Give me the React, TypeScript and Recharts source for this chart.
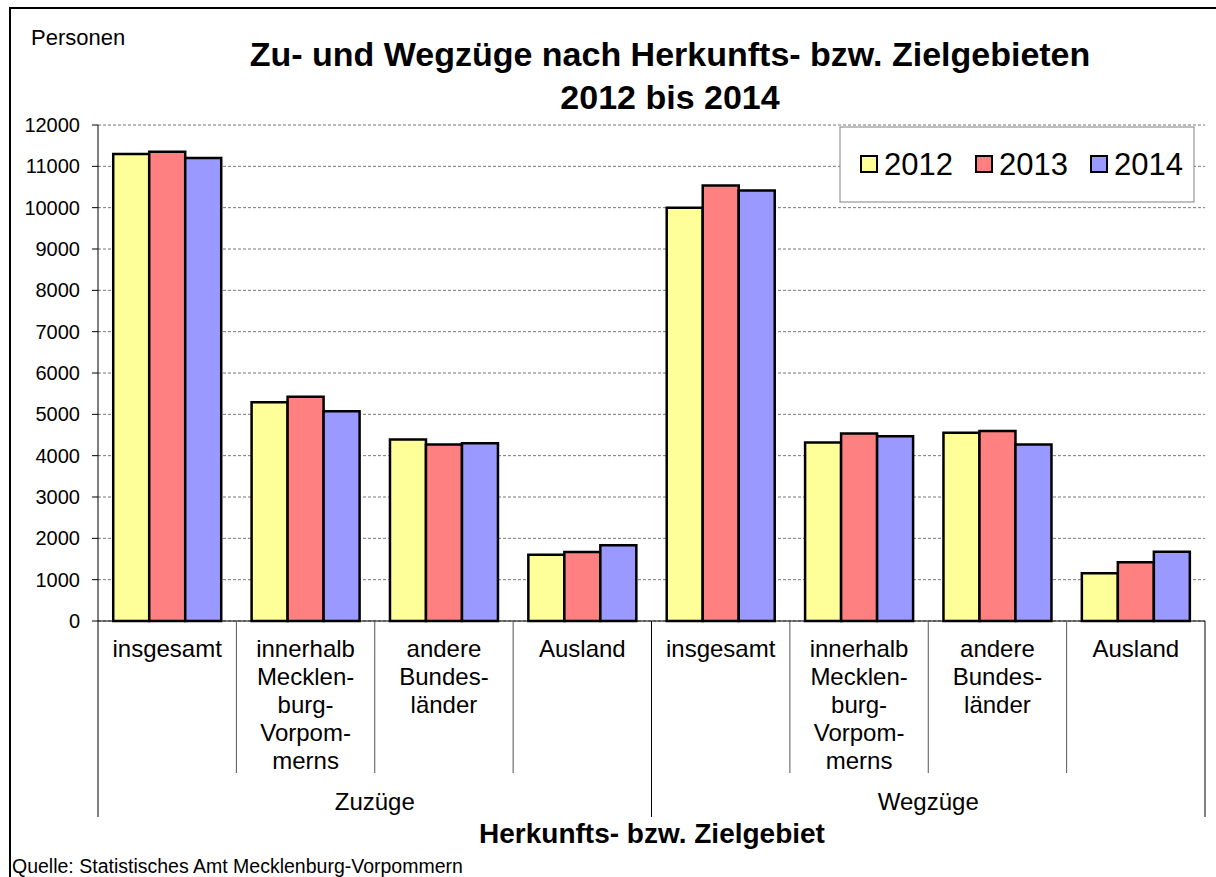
import { BarChart, Bar, XAxis, YAxis, CartesianGrid } from "recharts";

const FONT = "'Liberation Sans', Arial, sans-serif";

// Kategorien der x-Achse (zeilenweise wie im Original umbrochen)
const GROUPS = ["Zuzüge", "Wegzüge"];
const CATEGORY_LINES: string[][] = [
  ["insgesamt"],
  ["innerhalb", "Mecklen-", "burg-", "Vorpom-", "merns"],
  ["andere", "Bundes-", "länder"],
  ["Ausland"],
  ["insgesamt"],
  ["innerhalb", "Mecklen-", "burg-", "Vorpom-", "merns"],
  ["andere", "Bundes-", "länder"],
  ["Ausland"],
];

// Personen je Jahr
const V2012 = [11300, 5295, 4390, 1605, 10000, 4320, 4555, 1155];
const V2013 = [11355, 5425, 4270, 1670, 10535, 4535, 4595, 1420];
const V2014 = [11200, 5075, 4300, 1830, 10415, 4470, 4270, 1675];

const SERIES = [
  { key: "y2012", name: "2012", color: "#FFFF99" },
  { key: "y2013", name: "2013", color: "#FF8080" },
  { key: "y2014", name: "2014", color: "#9999FF" },
];

const Y_TICKS = [0, 1000, 2000, 3000, 4000, 5000, 6000, 7000, 8000, 9000, 10000, 11000, 12000];

const data = CATEGORY_LINES.map((lines, i) => ({
  key: `${GROUPS[Math.floor(i / 4)]} ${lines.join(" ")}`,
  y2012: V2012[i],
  y2013: V2013[i],
  y2014: V2014[i],
}));

const W = 1216;
const H = 877;
const PLOT_LEFT = 98;
const PLOT_RIGHT = 1205;
const PLOT_TOP = 125;
const BAND = (PLOT_RIGHT - PLOT_LEFT) / CATEGORY_LINES.length;

function CategoryTick(props: any) {
  const { x, y, payload } = props;
  const i = payload?.index ?? props.index ?? 0;
  const lines = CATEGORY_LINES[i] || [];
  const half = BAND / 2;
  const groupStart = i % 4 === 0;
  const last = i === CATEGORY_LINES.length - 1;
  return (
    <g>
      <line x1={x - half} x2={x - half} y1={y} y2={y + (groupStart ? 196 : 152)} stroke={groupStart ? "#000" : "#555"} />
      {last && <line x1={x + half} x2={x + half} y1={y} y2={y + 196} stroke="#000" />}
      <text x={x} y={y + 36} textAnchor="middle" fontSize={24} fontFamily={FONT} fill="#000">
        {lines.map((l, k) => (
          <tspan key={k} x={x} dy={k === 0 ? 0 : 28}>{l}</tspan>
        ))}
      </text>
      {i % 4 === 1 && (
        <text x={x + half} y={y + 189} textAnchor="middle" fontSize={24} fontFamily={FONT} fill="#000">
          {GROUPS[Math.floor(i / 4)]}
        </text>
      )}
    </g>
  );
}

export default function App() {
  return (
    <div style={{ position: "absolute", left: 0, top: 0, width: W, height: H, background: "#fff", overflow: "hidden" }}>
      <BarChart
        width={W}
        height={H}
        data={data}
        margin={{ top: PLOT_TOP, left: 10, right: W - PLOT_RIGHT, bottom: 26 }}
        barCategoryGap="11%"
        barGap={0}
      >
        <CartesianGrid vertical={false} stroke="#777" strokeDasharray="3 2" />
        <XAxis
          dataKey="key"
          interval={0}
          height={230}
          tickSize={0}
          tickMargin={0}
          tickLine={false}
          axisLine={{ stroke: "#000" }}
          tick={<CategoryTick />}
        />
        <YAxis
          width={88}
          domain={[0, 12000]}
          ticks={Y_TICKS}
          interval={0}
          tickSize={6}
          tickMargin={12}
          axisLine={{ stroke: "#000" }}
          tickLine={{ stroke: "#000" }}
          tick={{ fill: "#000", fontSize: 20, fontFamily: FONT }}
        />
        <YAxis
          yAxisId="r"
          orientation="right"
          width={0}
          domain={[0, 12000]}
          tick={false}
          tickLine={false}
          axisLine={{ stroke: "#666" }}
        />
        {SERIES.map((s) => (
          <Bar key={s.key} dataKey={s.key} name={s.name} fill={s.color} stroke="#000" strokeWidth={2.5} isAnimationActive={false} />
        ))}
      </BarChart>

      <svg width={W} height={H} style={{ position: "absolute", left: 0, top: 0, pointerEvents: "none" }}>
        {/* Rahmen */}
        <line x1={10} x2={10} y1={7} y2={H} stroke="#000" strokeWidth={2} />
        <line x1={9} x2={W} y1={8} y2={8} stroke="#000" strokeWidth={2} />

        <text x={31} y={45} fontSize={22} fontFamily={FONT} fill="#000">Personen</text>
        <text x={670} y={66} textAnchor="middle" fontSize={34} fontWeight="bold" fontFamily={FONT} fill="#000">
          Zu- und Wegzüge nach Herkunfts- bzw. Zielgebieten
        </text>
        <text x={670} y={109} textAnchor="middle" fontSize={34} fontWeight="bold" fontFamily={FONT} fill="#000">
          2012 bis 2014
        </text>

        {/* Legende */}
        <rect x={840} y={127} width={354} height={75} fill="#fff" stroke="#808080" />
        {SERIES.map((s, i) => (
          <g key={s.key}>
            <rect x={861 + i * 115} y={156} width={16} height={16} fill={s.color} stroke="#000" strokeWidth={2} />
            <text x={884 + i * 115} y={175} fontSize={31} fontFamily={FONT} fill="#000">{s.name}</text>
          </g>
        ))}

        <text x={652} y={843} textAnchor="middle" fontSize={28} fontWeight="bold" fontFamily={FONT} fill="#000">
          Herkunfts- bzw. Zielgebiet
        </text>
        <text x={12} y={873} fontSize={19.5} fontFamily={FONT} fill="#000">
          Quelle: Statistisches Amt Mecklenburg-Vorpommern
        </text>
      </svg>
    </div>
  );
}
